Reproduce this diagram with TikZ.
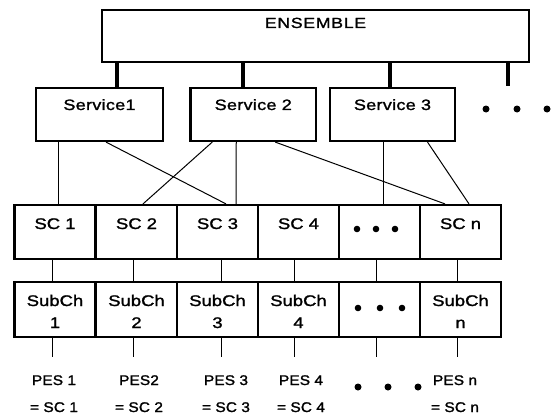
\documentclass[tikz,border=0pt]{standalone}
\usepackage{fontspec}
\setmainfont{Liberation Sans}
\newfontfamily\ensfnt{Liberation Sans}[FakeStretch=1.2, FakeBold=1.5, LetterSpace=5]
\newfontfamily\svcfnt{Liberation Sans}[FakeStretch=1.2, FakeBold=1.5, LetterSpace=2]
\newfontfamily\scfnt{Liberation Sans}[FakeStretch=1.2, FakeBold=1.5]
\newfontfamily\pesfnt{Liberation Sans}[FakeStretch=1.1, FakeBold=1.5, LetterSpace=1]
\begin{document}
\begin{tikzpicture}[x=1pt,y=-1pt,
  box/.style={draw, line width=2.2pt, rectangle, inner xsep=0pt, inner ysep=0pt, minimum width=81pt},
  ensbox/.style={box, minimum width=427pt, text height=18pt, text depth=34pt, font=\ensfnt\fontsize{14.7}{17}\selectfont},
  svcbox/.style={box, text height=22pt, text depth=31pt, font=\svcfnt\fontsize{15}{18}\selectfont},
  scbox/.style={box, text height=24pt, text depth=30pt, font=\scfnt\fontsize{15.4}{18}\selectfont},
  subbox/.style={box, text height=24pt, text depth=31pt, font=\scfnt\fontsize{15.4}{22}\selectfont},
  peslbl/.style={inner sep=0pt, anchor=base, font=\pesfnt\fontsize{14}{27}\selectfont},
  thickc/.style={line width=4pt},
  thinc/.style={line width=1pt},
  dotc/.style={fill=black}
]
\useasboundingbox (0,0) rectangle (553,417);

% ensemble and services
\node[ensbox] (ens) at (315.5,36) {ENSEMBLE};
\node[svcbox, minimum width=127pt] (s1) at (99.5,114.5) {Service1};
\node[svcbox, minimum width=125.5pt] (s2) at (253.25,114.5) {Service 2};
\node[svcbox, minimum width=125pt] (s3) at (392.5,114.5) {Service 3};

\coordinate (t1) at ([xshift=17.5pt]s1.north);
\coordinate (t2) at ([xshift=-10.25pt]s2.north);
\coordinate (t3) at ([xshift=-2.5pt]s3.north);
\coordinate (t4) at (508,86);
\draw[thickc] (ens.south -| t1) -- (t1);
\draw[thickc] (ens.south -| t2) -- (t2);
\draw[thickc] (ens.south -| t3) -- (t3);
\draw[thickc] (ens.south -| t4) -- (t4);

\fill[dotc] (486,109) circle (3.5);
\fill[dotc] (517,109) circle (3.5);
\fill[dotc] (547,109) circle (3.5);

% service channels
\node[scbox] (sc1) at (55,232) {SC 1};
\node[scbox] (sc2) at (136.5,232) {SC 2};
\node[scbox] (sc3) at (217.5,232) {SC 3};
\node[scbox] (sc4) at (298.5,232) {SC 4};
\node[scbox] (sc5) at (379.5,232) {};
\node[scbox] (scn) at (460.5,232) {SC n};
\fill[dotc] (357,229) circle (3.3);
\fill[dotc] (376,229) circle (3.3);
\fill[dotc] (395,229) circle (3.3);

% sub-channels
\node[subbox] (sb1) at (55,309.5) {\begin{tabular}[t]{@{}c@{}}SubCh\\1\end{tabular}};
\node[subbox] (sb2) at (136.5,309.5) {\begin{tabular}[t]{@{}c@{}}SubCh\\2\end{tabular}};
\node[subbox] (sb3) at (217.5,309.5) {\begin{tabular}[t]{@{}c@{}}SubCh\\3\end{tabular}};
\node[subbox] (sb4) at (298.5,309.5) {\begin{tabular}[t]{@{}c@{}}SubCh\\4\end{tabular}};
\node[subbox] (sb5) at (379.5,309.5) {};
\node[subbox] (sbn) at (460.5,309.5) {\begin{tabular}[t]{@{}c@{}}SubCh\\n\end{tabular}};
\fill[dotc] (358,308) circle (3.3);
\fill[dotc] (380,308) circle (3.3);
\fill[dotc] (402,308) circle (3.3);

% service -> SC links
\draw[thinc] ([xshift=-41.5pt]s1.south) -- ([xshift=3pt]sc1.north);
\draw[thinc] ([xshift=6.5pt]s1.south) -- ([xshift=8.5pt]sc3.north);
\draw[thinc] ([xshift=-41pt]s2.south) -- ([xshift=6.5pt]sc2.north);
\draw[thinc] ([xshift=-17pt]s2.south) -- ([xshift=18.5pt]sc3.north);
\draw[thinc] ([xshift=22pt]s2.south) -- ([xshift=-15.5pt]scn.north);
\draw[thinc] ([xshift=-9.5pt]s3.south) -- ([xshift=3.5pt]sc5.north);
\draw[thinc] ([xshift=35pt]s3.south) -- ([xshift=8.5pt]scn.north);

% SC -> SubCh links
\draw[thinc] ([xshift=-3pt]sc1.south) -- ([xshift=-3pt]sb1.north);
\draw[thinc] ([xshift=-3.5pt]sc2.south) -- ([xshift=-3.5pt]sb2.north);
\draw[thinc] ([xshift=4pt]sc3.south) -- ([xshift=4pt]sb3.north);
\draw[thinc] ([xshift=-4pt]sc4.south) -- ([xshift=-4pt]sb4.north);
\draw[thinc] ([xshift=-3.5pt]sc5.south) -- ([xshift=-3.5pt]sb5.north);
\draw[thinc] ([xshift=-3pt]scn.south) -- ([xshift=-3pt]sbn.north);

% SubCh -> PES stubs
\coordinate (p1) at (52,357);
\coordinate (p2) at (133,357);
\coordinate (p3) at (221.5,357);
\coordinate (p4) at (294.5,357);
\coordinate (p5) at (376,357);
\coordinate (pn) at (457.5,357);
\draw[thinc] (sb1.south -| p1) -- (p1);
\draw[thinc] (sb2.south -| p2) -- (p2);
\draw[thinc] (sb3.south -| p3) -- (p3);
\draw[thinc] (sb4.south -| p4) -- (p4);
\draw[thinc] (sb5.south -| p5) -- (p5);
\draw[thinc] (sbn.south -| pn) -- (pn);

% PES labels
\node[peslbl] (l1) at (54,385) {\begin{tabular}[t]{@{}c@{}}PES 1\\= SC 1\end{tabular}};
\node[peslbl] (l2) at (139,385) {\begin{tabular}[t]{@{}c@{}}PES2\\= SC 2\end{tabular}};
\node[peslbl] (l3) at (226,385) {\begin{tabular}[t]{@{}c@{}}PES 3\\= SC 3\end{tabular}};
\node[peslbl] (l4) at (301,385) {\begin{tabular}[t]{@{}c@{}}PES 4\\= SC 4\end{tabular}};
\node[peslbl] (ln) at (455,385) {\begin{tabular}[t]{@{}c@{}}PES n\\= SC n\end{tabular}};
\fill[dotc] (358,387) circle (3.5);
\fill[dotc] (388,387) circle (3.5);
\fill[dotc] (418,387) circle (3.5);
\end{tikzpicture}
\end{document}
